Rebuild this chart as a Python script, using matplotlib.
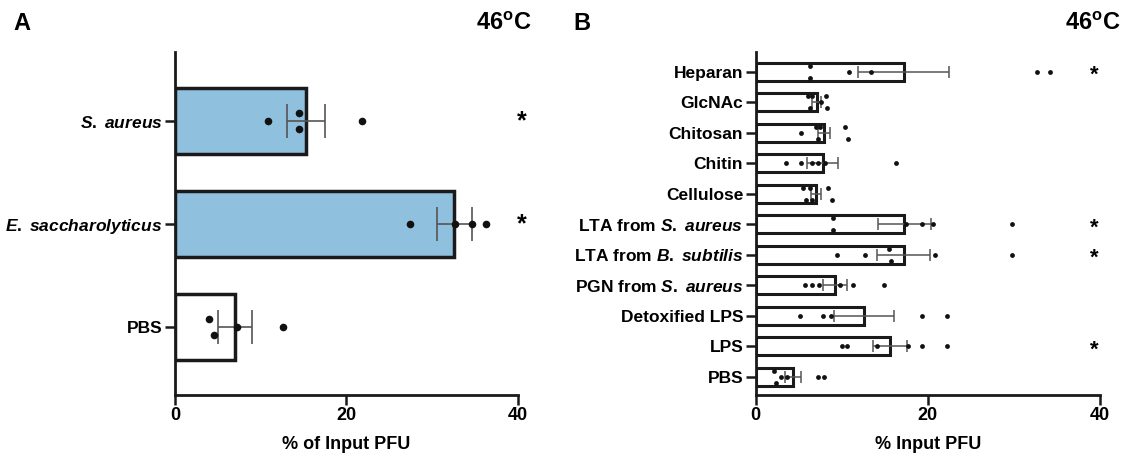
import matplotlib
matplotlib.use("Agg")
import matplotlib.pyplot as plt
import numpy as np

plt.rcParams['font.family'] = ['Liberation Sans', 'DejaVu Sans']
plt.rcParams['font.weight'] = 'bold'
plt.rcParams['mathtext.fontset'] = 'custom'
plt.rcParams['mathtext.rm'] = 'Liberation Sans:bold'
plt.rcParams['mathtext.it'] = 'Liberation Sans:bold:italic'
plt.rcParams['mathtext.bf'] = 'Liberation Sans:bold'

# ---------------- Panel A data ----------------
a_categories = ['$S.$ $aureus$', '$E.$ $saccharolyticus$', 'PBS']
a_means = [15.3, 32.6, 7.0]
a_sem = [2.25, 2.0, 2.0]
a_points = [
    [10.8, 14.5, 14.5, 21.8],
    [27.4, 32.7, 34.6, 36.3],
    [4.0, 4.6, 7.2, 12.6],
]
a_sig = [True, True, False]
a_colors = ['#8fc0de', '#8fc0de', 'white']

# ---------------- Panel B data ----------------
b_categories = ['Heparan', 'GlcNAc', 'Chitosan', 'Chitin', 'Cellulose',
                'LTA from $S.$ $aureus$', 'LTA from $B.$ $subtilis$',
                'PGN from $S.$ $aureus$', 'Detoxified LPS', 'LPS', 'PBS']
b_means = [17.2, 7.1, 7.95, 7.8, 7.05, 17.3, 17.2, 9.2, 12.6, 15.6, 4.35]
b_sem = [5.25, 0.55, 0.75, 1.8, 0.6, 3.1, 3.05, 1.4, 3.45, 1.95, 0.95]
b_points = [
    [6.3, 6.3, 10.9, 13.4, 32.7, 34.2],
    [6.1, 6.3, 6.6, 7.6, 8.2, 8.3],
    [5.3, 7.0, 7.2, 7.5, 10.4, 10.7],
    [3.5, 5.3, 6.5, 7.2, 8.1, 16.3],
    [5.5, 5.9, 6.3, 6.6, 8.4, 8.9],
    [9.0, 9.0, 17.5, 19.3, 20.6, 29.8],
    [9.5, 12.7, 15.5, 15.7, 20.9, 29.8],
    [5.7, 6.5, 7.4, 9.8, 11.3, 14.9],
    [5.1, 7.8, 8.8, 19.3, 22.3],
    [10.0, 10.6, 14.1, 17.7, 19.3, 22.3],
    [2.1, 2.4, 3.0, 3.6, 7.3, 8.0],
]
b_sig = [True, False, False, False, False, True, True, False, False, True, False]

xticks = [0, 20, 40]


def jitter(vals, thresh, off):
    """Vertical offsets for points that would overlap."""
    order = np.argsort(vals)
    v = np.asarray(vals)[order]
    offs = np.zeros(len(v))
    groups = [[0]]
    for i in range(1, len(v)):
        if v[i] - v[groups[-1][-1]] < thresh:
            groups[-1].append(i)
        else:
            groups.append([i])
    for g in groups:
        if len(g) > 1:
            for k, idx in enumerate(g):
                offs[idx] = -off if k % 2 == 0 else off
    res = np.zeros(len(v))
    res[order] = offs
    return res


def style_axis(ax, ylim):
    ax.set_xlim(0, 40)
    ax.set_ylim(*ylim)
    for s in ['top', 'right']:
        ax.spines[s].set_visible(False)
    for s in ['left', 'bottom']:
        ax.spines[s].set_linewidth(2.0)
        ax.spines[s].set_color('#1a1a1a')
    ax.tick_params(axis='both', length=7, width=1.8, labelsize=13, pad=2,
                   color='#1a1a1a')
    ax.set_xticks(xticks)
    ax.set_xticklabels([str(t) for t in xticks], fontweight='bold')


fig = plt.figure(figsize=(11.23, 4.61), dpi=100)

# ---------- Panel A ----------
axA = fig.add_axes([0.1558, 0.1432, 0.3054, 0.744])
ya = np.arange(len(a_categories))
axA.barh(ya, a_means, height=0.65, color=a_colors, edgecolor='#1a1a1a',
         linewidth=2.5, zorder=2)
axA.errorbar(a_means, ya, xerr=a_sem, fmt='none', ecolor='#555555',
             elinewidth=1.2, capsize=12.5, capthick=1.2, zorder=3)
for i, pts in enumerate(a_points):
    offs = jitter(pts, 1.0, 0.08)
    axA.scatter(pts, ya[i] + offs, s=30, color='#111111', zorder=4,
                linewidths=0)
    if a_sig[i]:
        axA.text(40.4, ya[i], '*', fontsize=18, ha='center', va='center',
                 fontweight='bold')
style_axis(axA, (2.66, -0.67))
axA.set_yticks(ya)
axA.set_yticklabels(a_categories, fontsize=12.5, fontweight='bold')
axA.set_xlabel('% of Input PFU', fontsize=13, fontweight='bold', labelpad=8)

# ---------- Panel B ----------
axB = fig.add_axes([0.6729, 0.1432, 0.3063, 0.744])
yb = np.arange(len(b_categories))
axB.barh(yb, b_means, height=0.6, color='white', edgecolor='#1a1a1a',
         linewidth=2.2, zorder=2)
axB.errorbar(b_means, yb, xerr=b_sem, fmt='none', ecolor='#555555',
             elinewidth=1.1, capsize=4.3, capthick=1.1, zorder=3)
for i, pts in enumerate(b_points):
    offs = jitter(pts, 0.55, 0.2)
    axB.scatter(pts, yb[i] + offs, s=12, color='#111111', zorder=4,
                linewidths=0)
    if b_sig[i]:
        axB.text(39.4, yb[i] + 0.12, '*', fontsize=16, ha='center', va='center',
                 fontweight='bold')
style_axis(axB, (10.6, -0.646))
axB.set_yticks(yb)
axB.set_yticklabels(b_categories, fontsize=12.5, fontweight='bold')
axB.set_xlabel('% Input PFU', fontsize=13, fontweight='bold', labelpad=8)

# ---------- Panel titles ----------
fig.text(0.012, 0.95, 'A', fontsize=17, fontweight='bold', ha='left', va='center')
fig.text(0.4737, 0.95, '46$^{\\rm o}$C', fontsize=17, fontweight='bold',
         ha='right', va='center')
fig.text(0.511, 0.95, 'B', fontsize=17, fontweight='bold', ha='left', va='center')
fig.text(0.998, 0.95, '46$^{\\rm o}$C', fontsize=17, fontweight='bold',
         ha='right', va='center')

fig.savefig('out.png', dpi=100, facecolor='white')
